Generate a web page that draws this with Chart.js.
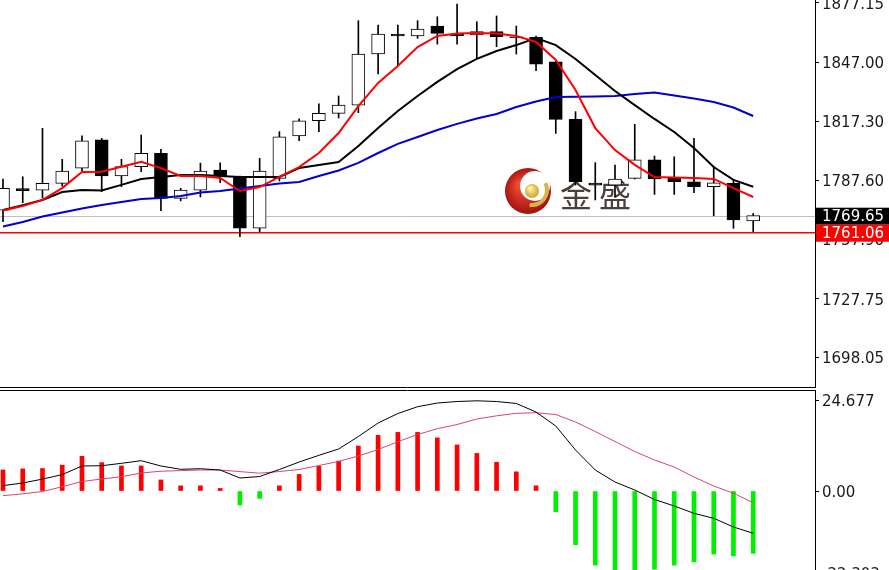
<!DOCTYPE html>
<html>
<head>
<meta charset="utf-8">
<script src="https://cdn.jsdelivr.net/npm/chart.js@4.4.0/dist/chart.umd.min.js"></script>
<style>
  html, body { margin: 0; padding: 0; background: #fff; overflow: hidden; width: 889px; height: 570px; position: relative; }
  #price { position: absolute; left: 0; top: -12px; }
  #macd { position: absolute; left: 0; top: 390px; }
</style>
</head>
<body>
<canvas id="price" width="889" height="400"></canvas>
<canvas id="macd" width="889" height="190"></canvas>
<script>
// candles, oldest to newest
const open  = [1772.5, 1783.3, 1782.6, 1786.0, 1793.6, 1807.9, 1789.7, 1794.4, 1801.2, 1778.4, 1782.6, 1792.7, 1789.3, 1763.3, 1788.5, 1809.9, 1817.6, 1821.3, 1825.5, 1851.3, 1861.4, 1860.4, 1865.4, 1861.4, 1860.9, 1862.6, 1860.0, 1859.7, 1847.4, 1818.3, 1786.1, 1785.1, 1788.5, 1797.8, 1788.5, 1786.8, 1784.3, 1786.0, 1767.0];
const high  = [1788.2, 1789.3, 1813.8, 1798.1, 1810.0, 1808.7, 1798.1, 1810.4, 1803.2, 1783.5, 1796.2, 1796.4, 1789.7, 1798.6, 1812.1, 1818.5, 1826.1, 1830.1, 1868.1, 1865.9, 1865.9, 1868.1, 1870.1, 1876.5, 1867.6, 1870.5, 1865.4, 1860.4, 1847.8, 1822.2, 1796.4, 1795.2, 1815.8, 1799.8, 1799.4, 1808.7, 1794.4, 1787.7, 1770.8];
const low   = [1766.6, 1776.2, 1778.6, 1784.6, 1792.4, 1781.8, 1784.3, 1791.9, 1772.2, 1777.1, 1779.1, 1786.3, 1759.0, 1761.6, 1787.2, 1807.5, 1812.1, 1819.0, 1821.7, 1841.2, 1845.2, 1859.2, 1856.3, 1856.3, 1849.1, 1855.0, 1851.3, 1842.9, 1811.2, 1785.1, 1777.6, 1779.1, 1788.2, 1780.4, 1780.4, 1781.3, 1769.6, 1763.3, 1761.6];
const close = [1783.5, 1782.3, 1786.0, 1792.2, 1807.5, 1789.7, 1794.4, 1801.2, 1778.4, 1782.6, 1792.2, 1789.7, 1763.3, 1792.2, 1809.5, 1817.6, 1821.3, 1825.5, 1851.3, 1861.4, 1860.4, 1863.9, 1861.7, 1860.6, 1862.6, 1860.0, 1859.5, 1846.2, 1818.3, 1786.8, 1785.1, 1788.2, 1797.8, 1788.2, 1786.8, 1784.3, 1786.3, 1767.5, 1769.65];

// moving averages (red fast, black medium, blue slow)
const maRed   = [1772.3, 1774.5, 1777.6, 1783.6, 1791.7, 1791.9, 1794.4, 1796.9, 1793.7, 1789.7, 1789.7, 1788.7, 1782.1, 1784.1, 1789.2, 1794.2, 1801.3, 1811.4, 1825.0, 1836.7, 1845.2, 1854.8, 1860.4, 1861.6, 1861.9, 1861.6, 1860.4, 1857.4, 1848.3, 1833.1, 1813.9, 1802.8, 1795.3, 1789.2, 1788.9, 1788.7, 1788.2, 1783.6, 1779.1];
const maBlack = [1772.5, 1775.0, 1777.6, 1781.6, 1782.6, 1782.4, 1785.2, 1788.2, 1789.2, 1790.2, 1790.2, 1789.7, 1789.2, 1789.2, 1789.2, 1793.7, 1795.3, 1796.8, 1804.8, 1813.9, 1822.5, 1830.1, 1837.2, 1843.7, 1848.8, 1852.8, 1855.8, 1859.4, 1855.8, 1848.8, 1840.7, 1832.6, 1825.5, 1818.5, 1811.9, 1803.8, 1794.2, 1787.7, 1784.3];
const maBlue  = [1764.2, 1766.5, 1769.2, 1771.3, 1773.3, 1775.0, 1776.6, 1778.1, 1778.6, 1779.6, 1781.4, 1782.1, 1783.4, 1784.6, 1785.9, 1786.7, 1789.7, 1792.5, 1796.3, 1801.3, 1805.9, 1809.4, 1812.9, 1816.0, 1818.7, 1821.0, 1824.5, 1827.3, 1829.6, 1829.7, 1829.8, 1830.1, 1831.1, 1831.9, 1830.3, 1828.8, 1827.1, 1824.3, 1820.0];

const priceTicks = [1877.15, 1847.00, 1817.30, 1787.60, 1757.90, 1727.75, 1698.05];
const bidLine = 1769.65;
const alertLine = 1761.06;

// MACD panel
const macdHist   = [5.7, 6.0, 6.1, 7.0, 9.4, 7.7, 6.8, 6.8, 3.0, 1.4, 1.4, 0.7, -3.8, -2.0, 1.4, 4.5, 6.7, 8.1, 12.2, 15.1, 15.9, 15.9, 14.4, 12.5, 10.2, 7.8, 5.2, 1.4, -5.6, -14.6, -20.1, -22.0, -22.0, -21.2, -20.1, -19.2, -17.1, -17.6, -16.9];
const macdLine   = [1.46, 2.17, 3.23, 4.45, 6.78, 6.86, 7.51, 8.22, 6.78, 5.88, 6.05, 5.69, 3.52, 3.93, 5.83, 7.86, 9.68, 11.39, 14.78, 18.44, 21.01, 22.86, 23.86, 24.27, 24.46, 24.27, 23.73, 21.42, 17.62, 11.12, 5.69, 2.44, 0.27, -2.30, -4.07, -6.05, -7.40, -9.76, -11.47];
const signalLine = [-1.27, -0.76, -0.14, 1.17, 2.58, 3.25, 3.88, 4.88, 5.37, 5.53, 5.69, 5.69, 5.26, 4.83, 5.29, 5.83, 6.91, 8.03, 9.49, 11.25, 13.37, 15.32, 16.89, 18.03, 19.52, 20.39, 21.07, 21.23, 20.74, 18.71, 16.13, 13.42, 10.71, 8.41, 6.51, 3.80, 1.36, -0.6, -3.17];
const macdTicks = [24.677, 0, -22.303];

const AXIS_FONT = { family: 'DejaVu Sans', size: 15 };
const xRange = { type: 'linear', display: false, min: -0.152, max: 41.13, offset: false };

const pts = arr => arr.map((v, i) => ({ x: i, y: v }));
const lineSet = (arr, color, w) => ({
  type: 'line', data: pts(arr), borderColor: color, borderWidth: w,
  pointRadius: 0, tension: 0, fill: false
});

// right axis, fixed width, no extra room for half labels
const fitAxis = a => { a.width = 74; a.paddingTop = 0; a.paddingBottom = 0; };

const priceDeco = {
  id: 'priceDeco',
  beforeDatasetsDraw(chart) {
    const { ctx, chartArea, scales } = chart;
    ctx.save();
    // watermark logo
    const cx = 528, cy = 203;
    const g = ctx.createRadialGradient(cx - 8, cy - 6, 3, cx, cy, 24);
    g.addColorStop(0, '#f04a30');
    g.addColorStop(1, '#a01010');
    ctx.fillStyle = g;
    ctx.beginPath(); ctx.arc(cx, cy, 23, 0, Math.PI * 2); ctx.fill();
    ctx.fillStyle = '#ffffff';
    ctx.beginPath(); ctx.arc(cx + 7, cy - 5, 15, 0, Math.PI * 2); ctx.fill();
    ctx.strokeStyle = '#d9b24a'; ctx.lineWidth = 4;
    ctx.beginPath(); ctx.arc(cx + 4, cy - 1, 15, -0.15 * Math.PI, 0.55 * Math.PI); ctx.stroke();
    const gb = ctx.createRadialGradient(cx + 2, cy - 3, 1, cx + 4, cy, 8);
    gb.addColorStop(0, '#fff3a0');
    gb.addColorStop(1, '#c89a20');
    ctx.fillStyle = gb;
    ctx.beginPath(); ctx.arc(cx + 4, cy, 7, 0, Math.PI * 2); ctx.fill();
    ctx.fillStyle = '#4a3f3b';
    ctx.font = '32px "Noto Sans CJK SC"';
    ctx.textBaseline = 'middle';
    ctx.letterSpacing = '7px';
    ctx.fillText('金盛', 560, 207);
    ctx.letterSpacing = '0px';
    // level lines
    const yb = Math.round(scales.y.getPixelForValue(bidLine)) + 0.5;
    ctx.strokeStyle = '#c0c0c0'; ctx.lineWidth = 1;
    ctx.beginPath(); ctx.moveTo(chartArea.left, yb); ctx.lineTo(chartArea.right, yb); ctx.stroke();
    const ya = scales.y.getPixelForValue(alertLine);
    ctx.strokeStyle = '#ff0000'; ctx.lineWidth = 1.5;
    ctx.beginPath(); ctx.moveTo(chartArea.left, ya); ctx.lineTo(chartArea.right, ya); ctx.stroke();
    ctx.restore();
  },
  afterDraw(chart) {
    const { ctx, chartArea, scales } = chart;
    ctx.save();
    ctx.strokeStyle = '#000'; ctx.lineWidth = 1;
    ctx.beginPath(); ctx.moveTo(0, chartArea.bottom - 0.5); ctx.lineTo(chartArea.right, chartArea.bottom - 0.5); ctx.stroke();
    ctx.font = '15px "DejaVu Sans"';
    ctx.textBaseline = 'middle';
    [[bidLine, '#000000'], [alertLine, '#ff0000']].forEach(([v, c]) => {
      const y = scales.y.getPixelForValue(v);
      ctx.fillStyle = c;
      ctx.fillRect(chartArea.right + 1, y - 8, 74, 17);
      ctx.fillStyle = '#ffffff';
      ctx.fillText(v.toFixed(2), chartArea.right + 7, y + 1.5);
    });
    ctx.restore();
  }
};

new Chart(document.getElementById('price'), {
  type: 'bar',
  data: {
    datasets: [
      lineSet(maRed, '#ff0000', 2),
      lineSet(maBlack, '#000000', 2),
      lineSet(maBlue, '#0000d0', 2),
      {
        type: 'bar',
        data: open.map((o, i) => ({ x: i, y: [Math.min(o, close[i]), Math.max(o, close[i])] })),
        backgroundColor: open.map((o, i) => close[i] > o ? '#ffffff' : '#000000'),
        borderColor: '#000000', borderWidth: 1, borderSkipped: false,
        barThickness: 13, grouped: false
      },
      {
        type: 'bar',
        data: low.map((l, i) => ({ x: i, y: [l, high[i]] })),
        backgroundColor: '#000000', borderWidth: 0,
        barThickness: 1, grouped: false
      }
    ]
  },
  options: {
    responsive: false, animation: false, devicePixelRatio: 1,
    layout: { padding: 0 },
    plugins: { legend: { display: false }, tooltip: { enabled: false } },
    scales: {
      x: xRange,
      y: {
        position: 'right', min: 1682.65, max: 1884.62,
        afterBuildTicks: a => { a.ticks = priceTicks.map(v => ({ value: v })); },
        afterFit: fitAxis,
        ticks: { autoSkip: false, padding: 3, labelOffset: 2, color: '#1a1a1a', font: AXIS_FONT, callback: v => Number(v).toFixed(2) },
        grid: { drawOnChartArea: false, drawTicks: true, tickLength: 4, color: '#000' },
        border: { display: true, color: '#000', width: 1 }
      }
    }
  },
  plugins: [priceDeco]
});

const macdDeco = {
  id: 'macdDeco',
  afterDraw(chart) {
    const { ctx, chartArea } = chart;
    ctx.save();
    ctx.strokeStyle = '#000'; ctx.lineWidth = 1;
    ctx.beginPath(); ctx.moveTo(0, 0.5); ctx.lineTo(chartArea.right, 0.5); ctx.stroke();
    ctx.restore();
  }
};

new Chart(document.getElementById('macd'), {
  type: 'bar',
  data: {
    datasets: [
      lineSet(macdLine, '#000000', 1),
      lineSet(signalLine, '#d8436f', 1),
      {
        type: 'bar', data: pts(macdHist),
        backgroundColor: macdHist.map(v => v >= 0 ? '#ff0000' : '#00f000'),
        borderWidth: 0, barThickness: 4, grouped: false
      }
    ]
  },
  options: {
    responsive: false, animation: false, devicePixelRatio: 1,
    layout: { padding: 0 },
    plugins: { legend: { display: false }, tooltip: { enabled: false } },
    scales: {
      x: xRange,
      y: {
        position: 'right', min: -24.13, max: 27.39,
        afterBuildTicks: a => { a.ticks = macdTicks.map(v => ({ value: v })); },
        afterFit: fitAxis,
        ticks: { autoSkip: false, padding: 3, labelOffset: 2, color: '#1a1a1a', font: AXIS_FONT, callback: v => v === 0 ? '0.00' : Number(v).toFixed(3) },
        grid: { drawOnChartArea: false, drawTicks: true, tickLength: 4, color: '#000' },
        border: { display: true, color: '#000', width: 1 }
      }
    }
  },
  plugins: [macdDeco]
});
</script>
</body>
</html>
